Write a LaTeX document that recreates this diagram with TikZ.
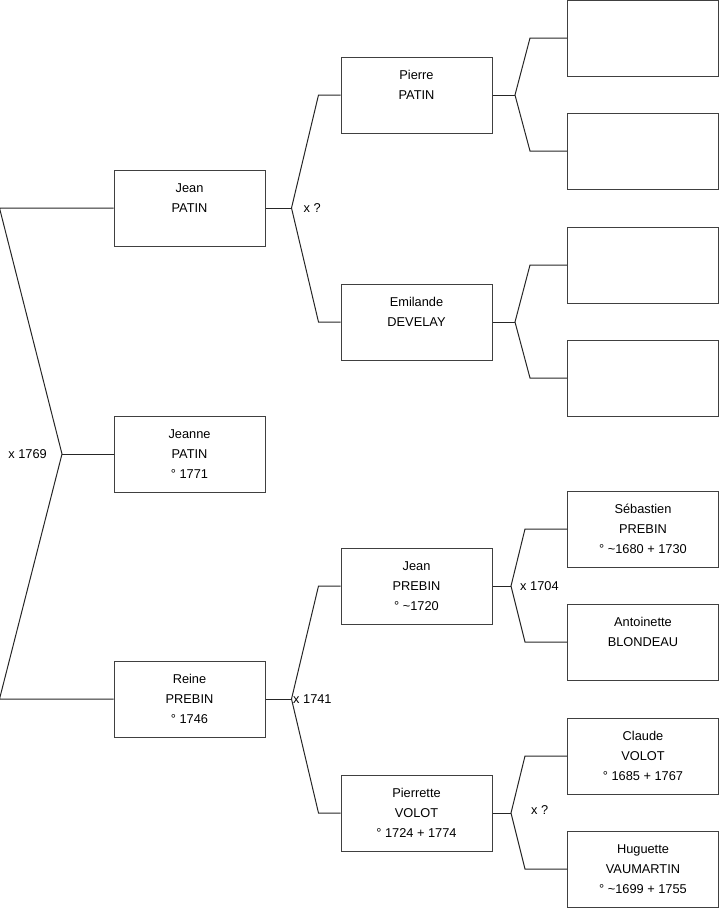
\documentclass[tikz,border=0pt]{standalone}
\usepackage{fontspec}
\setmainfont{Liberation Sans}
\usetikzlibrary{positioning}

\begin{document}
\begin{tikzpicture}[x=1pt,y=-1pt,
  box/.style={draw=black!75,line width=1pt,minimum width=151pt,minimum height=76pt,inner sep=0pt,align=center,font=\fontsize{12.8}{20}\selectfont},
  link/.style={draw=black!85,line width=1pt},
  tie/.style={inner sep=0pt,font=\fontsize{12.8}{14}\selectfont}]
\useasboundingbox (0,0) rectangle (719,908);
\node[box] (jean) at (189.5,208) {Jean\\PATIN\\\mbox{}};
\node[box] (jeanne) at (189.5,454) {Jeanne\\PATIN\\° 1771};
\node[box] (reine) at (189.5,699) {Reine\\PREBIN\\° 1746};
\node[box] (pierre) at (416.5,95) {Pierre\\PATIN\\\mbox{}};
\node[box] (emilande) at (416.5,322) {Emilande\\DEVELAY\\\mbox{}};
\node[box] (jeanp) at (416.5,586) {Jean\\PREBIN\\° \textasciitilde 1720};
\node[box] (pierrette) at (416.5,813) {Pierrette\\VOLOT\\° 1724 + 1774};
\node[box] (ppa) at (643,38) {};
\node[box] (ppb) at (643,151) {};
\node[box] (pda) at (643,265) {};
\node[box] (pdb) at (643,378) {};
\node[box] (sebastien) at (643,529) {Sébastien\\PREBIN\\° \textasciitilde 1680 + 1730};
\node[box] (antoinette) at (643,642) {Antoinette\\BLONDEAU\\\mbox{}};
\node[box] (claude) at (643,756) {Claude\\VOLOT\\° 1685 + 1767};
\node[box] (huguette) at (643,869) {Huguette\\VAUMARTIN\\° \textasciitilde 1699 + 1755};
\coordinate (m0) at (62,454);
\coordinate (m1) at (291.5,208);
\coordinate (m2) at (291.5,699);
\coordinate (m3) at (515,95);
\coordinate (m4) at (515,322);
\coordinate (m5) at (511,586);
\coordinate (m6) at (511,813);
\draw[link] (jean.west) -- ++(-114,0) -- (m0) -- ([xshift=-114pt]reine.west) -- (reine.west);
\draw[link] (m0) -- (jeanne.west);
\draw[link] (jean.east) -- (m1);
\draw[link] (pierre.west) -- ++(-22,0) -- (m1) -- ([xshift=-22pt]emilande.west) -- (emilande.west);
\draw[link] (reine.east) -- (m2);
\draw[link] (jeanp.west) -- ++(-22,0) -- (m2) -- ([xshift=-22pt]pierrette.west) -- (pierrette.west);
\draw[link] (pierre.east) -- (m3);
\draw[link] (ppa.west) -- ++(-37,0) -- (m3) -- ([xshift=-37pt]ppb.west) -- (ppb.west);
\draw[link] (emilande.east) -- (m4);
\draw[link] (pda.west) -- ++(-37,0) -- (m4) -- ([xshift=-37pt]pdb.west) -- (pdb.west);
\draw[link] (jeanp.east) -- (m5);
\draw[link] (sebastien.west) -- ++(-42,0) -- (m5) -- ([xshift=-42pt]antoinette.west) -- (antoinette.west);
\draw[link] (pierrette.east) -- (m6);
\draw[link] (claude.west) -- ++(-42,0) -- (m6) -- ([xshift=-42pt]huguette.west) -- (huguette.west);
\node[tie,left=15pt] (t0) at (m0) {x 1769};
\node[tie,right=12pt] (t1) at (m1) {x ?};
\node[tie,right=1.5pt] (t2) at (m2) {x 1741};
\node[tie,right=9pt] (t5) at (m5) {x 1704};
\node[tie,right=20pt,yshift=3pt] (t6) at (m6) {x ?};
\end{tikzpicture}
\end{document}
